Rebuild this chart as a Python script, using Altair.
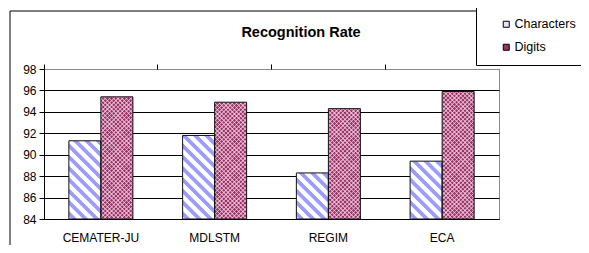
import math
import altair as alt
import pandas as pd

# ---- data ----
categories = ["CEMATER-JU", "MDLSTM", "REGIM", "ECA"]
series = ["Characters", "Digits"]
characters = [91.3, 91.8, 88.3, 89.4]
digits = [95.4, 94.9, 94.3, 95.9]
y_ticks = [84, 86, 88, 90, 92, 94, 96, 98]

rows = []
for i, c in enumerate(categories):
    rows.append({"id": len(rows), "Method": c, "Series": "Characters", "Rate": characters[i]})
    rows.append({"id": len(rows), "Method": c, "Series": "Digits", "Rate": digits[i]})
df = pd.DataFrame(rows)

# ---- layout ----
W, H = 455, 150
YMIN, YMAX = 84, 98
PO = 0.777                      # outer padding of the pair inside a category band
BAR_W = (W / len(categories)) / (2 + 2 * PO)
FONT = "Liberation Sans"


def stripes(w, h, period, frac, on, off, kind, soft=0.7):
    """Linear gradient drawing 45-degree stripes inside a w x h bar."""
    D = (w + h) / math.sqrt(2)
    a, b = 1.0 / h, 1.0 / w
    t = (a + b) / (a * a + b * b)
    if kind == "back":
        x1, y1, x2, y2 = 0, 1, t * a, 1 - t * b
    else:
        x1, y1, x2, y2 = 0, 0, t * a, t * b
    stops = []

    def add(o, c):
        o = min(max(o, 0.0), 1.0)
        if stops and o < stops[-1]["offset"]:
            o = stops[-1]["offset"]
        stops.append({"offset": round(o, 5), "color": c})

    add(0, off)
    pos = period * 0.25
    while pos < D:
        e = pos + frac * period
        add((pos - soft / 2) / D, off)
        add((pos + soft / 2) / D, on)
        add((e - soft / 2) / D, on)
        add((e + soft / 2) / D, off)
        pos += period
    add(1, off)
    return {"gradient": "linear", "x1": x1, "y1": y1, "x2": x2, "y2": y2, "stops": stops}


x_scale = alt.Scale(domain=categories, paddingInner=0, paddingOuter=0)
xo = alt.XOffset("Series:N", scale=alt.Scale(domain=series, paddingInner=0, paddingOuter=PO))
y_axis = alt.Axis(
    title=None, values=y_ticks, grid=True,
    gridColor={"condition": {"test": "datum.value === 98", "value": "#8a8a8a"}, "value": "#000000"},
    gridWidth=1, domainColor="#000000", tickColor="#000000", tickSize=5,
    labelFont=FONT, labelFontSize=12, labelColor="#000000", labelPadding=3,
)
Y = alt.Y("Rate:Q", scale=alt.Scale(domain=[YMIN, YMAX], nice=False, zero=False), axis=y_axis)
Y2 = alt.Y2(datum=YMIN)

x_label = alt.X("Method:N", sort=categories, scale=x_scale, axis=alt.Axis(
    title=None, ticks=False, tickSize=0, labelPadding=13, labelAngle=0, grid=False,
    labelFont=FONT, labelFontSize=12, labelColor="#000000", domainColor="#000000"))
x_ticks = alt.X("Method:N", sort=categories, scale=x_scale, axis=alt.Axis(
    title=None, labels=False, domain=False, ticks=True, tickSize=5, tickColor="#000000",
    bandPosition=0, grid=False))
x_none = alt.X("Method:N", sort=categories, scale=x_scale, axis=None)

frame_src = alt.Chart(alt.Data(values=[{"f": 1}]))
frame_left = frame_src.mark_rule(color="#000000", strokeWidth=1, clip=False).encode(
    x=alt.value(-34), y=alt.value(-58), y2=alt.value(400))
frame_top = frame_src.mark_rule(color="#000000", strokeWidth=1, clip=False).encode(
    x=alt.value(-34), x2=alt.value(700), y=alt.value(-58))

base = alt.Chart(df).mark_bar(strokeWidth=0).encode(
    x=x_label, xOffset=xo, y=Y, y2=Y2,
    color=alt.Color("Series:N", scale=alt.Scale(domain=series, range=["#e4e4ff", "#993366"]),
                    legend=alt.Legend(
                        title=None, orient="none", legendX=432, legendY=-62,
                        padding=11, symbolOffset=13, strokeColor="#000000", fillColor="#ffffff",
                        symbolType="square", symbolSize=36, symbolStrokeColor="#000000",
                        symbolStrokeWidth=1, labelFont=FONT, labelFontSize=12.5,
                        labelColor="#000000", rowPadding=10, labelOffset=2)),
)

layers = [frame_left, frame_top, base]
for r in rows:
    h = (r["Rate"] - YMIN) / (YMAX - YMIN) * H
    sel = alt.Chart(df).transform_filter(f"datum.id == {r['id']}")
    if r["Series"] == "Characters":
        g = stripes(BAR_W, h, 8.0, 0.47, "#9c9cff", "#ffffff", "back")
        layers.append(sel.mark_bar(fill=g, strokeWidth=0).encode(x=x_none, xOffset=xo, y=Y, y2=Y2))
    else:
        for kind in ("back", "fwd"):
            g = stripes(BAR_W, h, 3.0, 0.36, "rgba(255,220,238,0.62)", "rgba(255,255,255,0)", kind, soft=0.4)
            layers.append(sel.mark_bar(fill=g, strokeWidth=0).encode(x=x_none, xOffset=xo, y=Y, y2=Y2))

outline = alt.Chart(df).mark_bar(fillOpacity=0, stroke="#111111", strokeWidth=1).encode(
    x=x_ticks, xOffset=xo, y=Y, y2=Y2)
layers.append(outline)

chart = alt.layer(*layers).resolve_axis(x="independent").properties(
    width=W, height=H,
    title=alt.Title("Recognition Rate", font=FONT, fontSize=14.5, fontWeight="bold", color="#000000",
                    anchor="middle", frame="group", baseline="alphabetic", offset=0, dx=29.5, dy=45),
    autosize=alt.AutoSizeParams(type="none"),
    padding={"left": 36, "top": 61, "right": 82, "bottom": 26},
    background="#ffffff",
).configure_view(stroke="#8a8a8a", strokeWidth=1)

chart.save("out.html", embed_options={"renderer": "svg", "actions": False})
